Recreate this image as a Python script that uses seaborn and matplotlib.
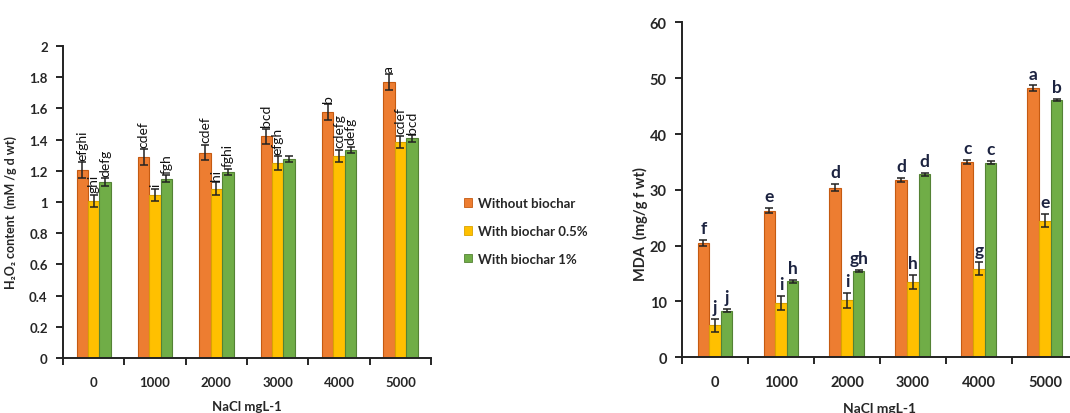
import numpy as np
import pandas as pd
import matplotlib
matplotlib.use("Agg")
import matplotlib.pyplot as plt
from matplotlib.patches import Patch
import seaborn as sns

# ---------------- data ----------------
nacl = ["0", "1000", "2000", "3000", "4000", "5000"]
treatments = ["Without biochar", "With biochar 0.5%", "With biochar 1%"]
colors = ["#ED7D31", "#FFC000", "#70AD47"]
edges = ["#C55A11", "#D9A300", "#548235"]

h2o2_without = [1.205, 1.29, 1.317, 1.42, 1.578, 1.768]
h2o2_b05 = [1.006, 1.045, 1.086, 1.248, 1.295, 1.386]
h2o2_b1 = [1.128, 1.15, 1.193, 1.274, 1.334, 1.407]
h2o2_err_without = [0.05, 0.05, 0.05, 0.05, 0.05, 0.05]
h2o2_err_b05 = [0.04, 0.04, 0.04, 0.045, 0.04, 0.04]
h2o2_err_b1 = [0.025, 0.02, 0.02, 0.02, 0.02, 0.02]
h2o2_letters_without = ["efghi", "cdef", "cdef", "bcd", "b", "a"]
h2o2_letters_b05 = ["ghi", "i", "hi", "efgh", "cdefg", "cdef"]
h2o2_letters_b1 = ["defg", "fgh", "fghi", "", "defg", "bcd"]

mda_without = [20.5, 26.3, 30.4, 31.8, 35.0, 48.2]
mda_b05 = [5.7, 9.7, 10.2, 13.5, 15.9, 24.5]
mda_b1 = [8.35, 13.6, 15.5, 32.8, 34.9, 46.1]
mda_err_without = [0.5, 0.5, 0.6, 0.4, 0.4, 0.5]
mda_err_b05 = [1.1, 1.3, 1.3, 1.2, 1.2, 1.2]
mda_err_b1 = [0.3, 0.2, 0.2, 0.3, 0.3, 0.2]
mda_letters_without = ["f", "e", "d", "d", "c", "a"]
mda_letters_b05 = ["j", "i", "i", "h", "g", "e"]
mda_letters_b1 = ["j", "h", "gh", "d", "c", "b"]

h2o2_yticks = [0, 0.2, 0.4, 0.6, 0.8, 1.0, 1.2, 1.4, 1.6, 1.8, 2.0]
mda_yticks = [0, 10, 20, 30, 40, 50, 60]

# ---------------- style ----------------
sns.set_style("ticks")
plt.rcParams["font.family"] = ["Lato", "DejaVu Sans"]
plt.rcParams["axes.linewidth"] = 1.4
plt.rcParams["axes.edgecolor"] = "#222222"


def long_df(a, b, c):
    rows = []
    for vals, t in zip([a, b, c], treatments):
        for n, v in zip(nacl, vals):
            rows.append({"NaCl": n, "Treatment": t, "value": v})
    return pd.DataFrame(rows)


def draw(ax, df, errs, letters, width, ylim, yticks, ylab, fs_tick, fs_lab,
         fs_xlab, letter_kw, letter_off, ylab_coords, xlab_coords, fmt):
    sns.barplot(data=df, x="NaCl", y="value", hue="Treatment", order=nacl,
                hue_order=treatments, palette=dict(zip(treatments, colors)),
                saturation=1, width=width, errorbar=None, ax=ax, legend=False,
                linewidth=0.8)
    bar_conts = list(ax.containers)
    for ci, cont in enumerate(bar_conts):
        xs, hs = [], []
        for p in cont.patches:
            p.set_edgecolor(edges[ci])
            xs.append(p.get_x() + p.get_width() / 2)
            hs.append(p.get_height())
        ax.errorbar(xs, hs, yerr=errs[ci], fmt="none", ecolor="#222222",
                    elinewidth=1.1, capsize=3, capthick=1.1, zorder=5)
        for x, h, e, lab in zip(xs, hs, errs[ci], letters[ci]):
            if lab:
                ax.text(x, h + e + letter_off, lab, ha="center", va="bottom",
                        zorder=6, **letter_kw)
    ax.set_xlim(-0.5, 5.5)
    ax.set_ylim(*ylim)
    ax.set_yticks(yticks)
    ax.set_yticklabels([fmt(v) for v in yticks], fontsize=fs_tick,
                       fontweight="bold")
    ax.set_xticks(np.arange(-0.5, 6, 1))
    ax.set_xticklabels([""] * 7)
    ax.set_xticks(np.arange(6), minor=True)
    ax.set_xticklabels(nacl, minor=True, fontsize=fs_tick, fontweight="bold")
    ax.tick_params(axis="x", which="minor", length=0, pad=13)
    ax.tick_params(axis="x", which="major", length=5, width=1.4)
    ax.tick_params(axis="y", length=5, width=1.4, pad=6)
    ax.set_ylabel(ylab, fontsize=fs_lab, fontweight="bold")
    ax.yaxis.set_label_coords(*ylab_coords)
    ax.set_xlabel("NaCl mgL-1", fontsize=fs_xlab, fontweight="bold")
    ax.xaxis.set_label_coords(*xlab_coords)
    sns.despine(ax=ax)


fig = plt.figure(figsize=(10.7, 4.14), dpi=100)
ax1 = fig.add_axes([0.0589, 0.1329, 0.344, 0.7536])
ax2 = fig.add_axes([0.6374, 0.1345, 0.370, 0.809])

draw(ax1, long_df(h2o2_without, h2o2_b05, h2o2_b1),
     [h2o2_err_without, h2o2_err_b05, h2o2_err_b1],
     [h2o2_letters_without, h2o2_letters_b05, h2o2_letters_b1],
     0.56, (0, 2), h2o2_yticks, "H\u2082O\u2082 content  (mM /g d wt)",
     9.5, 9, 9.5,
     dict(rotation=90, fontsize=10, color="#111111"), 0.015,
     (-0.125, 0.47), (0.5, -0.135), lambda v: f"{v:g}")

draw(ax2, long_df(mda_without, mda_b05, mda_b1),
     [mda_err_without, mda_err_b05, mda_err_b1],
     [mda_letters_without, mda_letters_b05, mda_letters_b1],
     0.53, (0, 60), mda_yticks, "MDA  (mg/g f wt)",
     10.5, 10.5, 10,
     dict(fontsize=12.5, fontweight="bold", color="#1c2340"), 0.7,
     (-0.085, 0.40), (0.5, -0.132), lambda v: f"{v:g}")

handles = [Patch(facecolor=c, edgecolor=e, linewidth=0.6)
           for c, e in zip(colors, edges)]
fig.legend(handles, treatments, loc="center left",
           bbox_to_anchor=(452 / 1070, 1 - 232 / 414), frameon=False,
           prop=dict(size=9.5, weight="bold"), handlelength=0.6,
           handleheight=0.6, handletextpad=0.5, labelspacing=1.2)

fig.savefig("out.png", dpi=100)
